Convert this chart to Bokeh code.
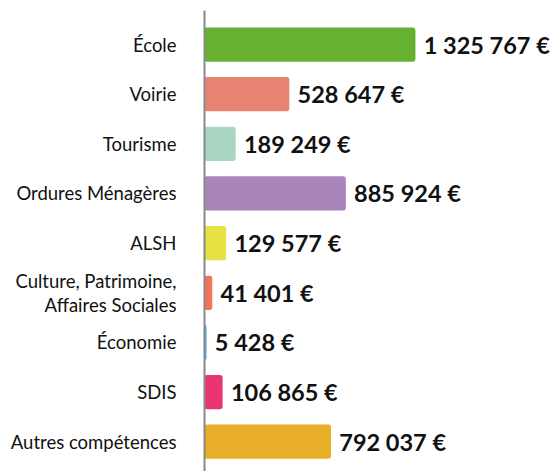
from bokeh.plotting import figure
from bokeh.models import ColumnDataSource, Range1d, FixedTicker, LabelSet
from bokeh.core.properties import value
from bokeh.embed import file_html
from bokeh.resources import INLINE

categories = ["École", "Voirie", "Tourisme", "Ordures Ménagères", "ALSH",
              "Culture, Patrimoine,\nAffaires Sociales", "Économie", "SDIS",
              "Autres compétences"]
values = [1325767, 528647, 189249, 885924, 129577, 41401, 5428, 106865, 792037]
value_labels = ["1 325 767 €", "528 647 €", "189 249 €", "885 924 €", "129 577 €",
                "41 401 €", "5 428 €", "106 865 €", "792 037 €"]
colors = ["#66b032", "#e88272", "#a9d6c0", "#a985bb", "#e6e244",
          "#f4735a", "#5cb0e2", "#e8356f", "#e9ae27"]

n = len(categories)
ypos = [n - 1 - i for i in range(n)]

source = ColumnDataSource(dict(y=ypos, v=values, lab=value_labels, c=colors))

p = figure(width=552, height=471, output_backend="svg", toolbar_location=None,
           x_range=Range1d(-3000, 2197000), y_range=Range1d(-0.6, n - 1 + 0.685),
           min_border_left=204, min_border_right=0, min_border_top=10,
           min_border_bottom=0)
p.outline_line_color = None
p.grid.visible = False
p.xaxis.visible = False

p.hbar(y="y", right="v", left=0, height=0.66, fill_color="c", line_color="c",
       line_width=1.5, border_radius=2, source=source)

labels = LabelSet(x="v", y="y", text="lab", source=source, x_offset=9,
                  text_baseline="middle", text_align="left",
                  text_font=value("Lato"), text_font_style="bold",
                  text_font_size="23.5px", text_color="#111111")
p.add_layout(labels)

ax = p.yaxis[0]
ax.ticker = FixedTicker(ticks=ypos)
ax.major_label_overrides = {y: c for y, c in zip(ypos, categories)}
ax.major_tick_line_color = None
ax.minor_tick_line_color = None
ax.major_tick_in = 0
ax.major_tick_out = 0
ax.major_label_standoff = 28
ax.axis_line_color = "#888888"
ax.axis_line_width = 2
ax.major_label_text_font = "Lato"
ax.major_label_text_font_size = "18.5px"
ax.major_label_text_color = "#111111"
ax.major_label_text_line_height = 1.1

open("out.html", "w").write(file_html(p, INLINE))
